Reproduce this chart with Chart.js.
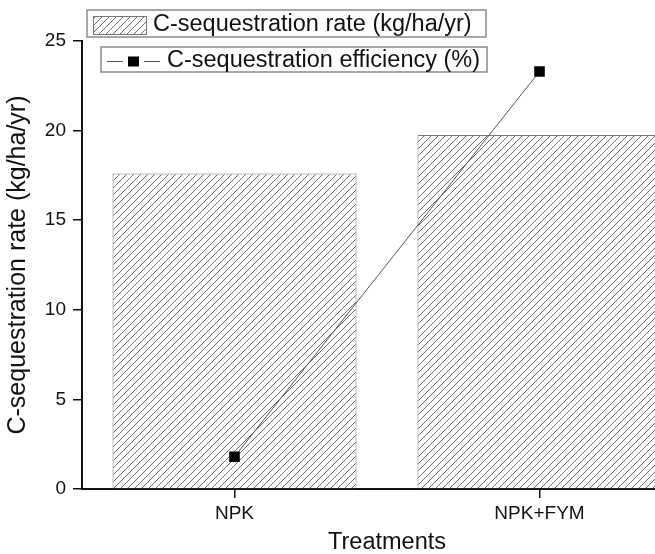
<!DOCTYPE html>
<html>
<head>
<meta charset="utf-8">
<script src="https://cdn.jsdelivr.net/npm/chart.js@4.4.1/dist/chart.umd.min.js"></script>
<style>
  html, body { margin: 0; padding: 0; background: #fff; overflow: hidden; }
  #wrap { width: 655px; height: 554px; overflow: hidden; position: relative; }
  canvas { display: block; }
</style>
</head>
<body>
<div id="wrap"><canvas id="c" width="700" height="554"></canvas></div>
<script>
// ---- data ----
const categories = ['NPK', 'NPK+FYM'];
const rateValues = [17.6, 19.75];          // C-sequestration rate (kg/ha/yr)
const efficiencyValues = [1.8, 23.3];      // C-sequestration efficiency (%)
const rateLabel = 'C-sequestration rate (kg/ha/yr)';
const efficiencyLabel = 'C-sequestration efficiency (%)';
const yAxisTitle = 'C-sequestration rate (kg/ha/yr)';
const xAxisTitle = 'Treatments';
const yMin = 0, yMax = 25, yStep = 5;

const FONT = "'Liberation Sans', Arial, sans-serif";

function makeHatch() {
  const s = 7;
  const t = document.createElement('canvas');
  t.width = s; t.height = s;
  const g = t.getContext('2d');
  g.fillStyle = '#fff';
  g.fillRect(0, 0, s, s);
  g.strokeStyle = '#6a6a6a';
  g.lineWidth = 1;
  g.beginPath();
  g.moveTo(0, s); g.lineTo(s, 0);
  g.moveTo(-1, 1); g.lineTo(1, -1);
  g.moveTo(s - 1, s + 1); g.lineTo(s + 1, s - 1);
  g.stroke();
  return document.getElementById('c').getContext('2d').createPattern(t, 'repeat');
}
const hatch = makeHatch();

const boxedLegend = {
  id: 'boxedLegend',
  afterDraw(chart) {
    const ctx = chart.ctx;
    const ds = chart.data.datasets;
    const bar = ds.find(d => d.type === 'bar');
    const line = ds.find(d => d.type === 'line');
    ctx.save();
    ctx.font = '23.5px ' + FONT;
    ctx.textBaseline = 'middle';
    ctx.textAlign = 'left';
    // box 1 (bars)
    ctx.fillStyle = '#fff';
    ctx.strokeStyle = '#8a8a8a';
    ctx.lineWidth = 1.5;
    ctx.fillRect(87, 10, 399, 27);
    ctx.strokeRect(87, 10, 399, 27);
    ctx.fillStyle = hatch;
    ctx.fillRect(93, 16, 53, 18);
    ctx.strokeStyle = '#777';
    ctx.lineWidth = 1;
    ctx.strokeRect(93.5, 16.5, 53, 18);
    ctx.fillStyle = '#111';
    ctx.fillText(bar.label, 153, 24.5);
    // box 2 (line)
    ctx.fillStyle = '#fff';
    ctx.strokeStyle = '#8a8a8a';
    ctx.lineWidth = 1.5;
    ctx.fillRect(101, 47, 386, 25);
    ctx.strokeRect(101, 47, 386, 25);
    ctx.strokeStyle = '#555';
    ctx.lineWidth = 1;
    ctx.beginPath();
    ctx.moveTo(107, 61.5); ctx.lineTo(123, 61.5);
    ctx.moveTo(144, 61.5); ctx.lineTo(160, 61.5);
    ctx.stroke();
    ctx.fillStyle = '#000';
    ctx.fillRect(128, 56.5, 11, 10);
    ctx.fillStyle = '#111';
    ctx.fillText(line.label, 167, 60.5);
    ctx.restore();
  }
};

new Chart(document.getElementById('c'), {
  data: {
    labels: categories,
    datasets: [
      {
        type: 'line',
        label: efficiencyLabel,
        data: efficiencyValues,
        order: 0,
        borderColor: '#555',
        borderWidth: 1,
        tension: 0,
        pointStyle: 'rect',
        pointRadius: 7.5,
        pointBackgroundColor: '#000',
        pointBorderColor: '#000',
        pointBorderWidth: 0
      },
      {
        type: 'bar',
        label: rateLabel,
        data: rateValues,
        order: 1,
        backgroundColor: hatch,
        borderColor: '#777',
        borderWidth: 1,
        barPercentage: 0.8,
        categoryPercentage: 1.0
      }
    ]
  },
  options: {
    responsive: false,
    animation: false,
    devicePixelRatio: 1,
    layout: { padding: { top: 41, right: 8, left: 0, bottom: 0 } },
    plugins: { legend: { display: false }, tooltip: { enabled: false } },
    scales: {
      x: {
        type: 'category',
        offset: true,
        afterFit(s) { s.height = 65; },
        grid: { offset: false, drawOnChartArea: false, drawTicks: true, tickLength: 9, color: '#111', lineWidth: 1.5 },
        border: { display: true, color: '#111', width: 2 },
        ticks: { color: '#111', font: { family: FONT, size: 19 }, padding: 4, maxRotation: 0 },
        title: { display: true, text: xAxisTitle, color: '#111', font: { family: FONT, size: 23.5, lineHeight: 1 }, padding: 0 }
      },
      y: {
        min: yMin, max: yMax,
        afterFit(s) { s.width = 82; },
        grid: { drawOnChartArea: false, drawTicks: true, tickLength: 9, color: '#111', lineWidth: 1.5 },
        border: { display: true, color: '#111', width: 2 },
        ticks: { stepSize: yStep, color: '#111', font: { family: FONT, size: 19 }, padding: 7 },
        title: { display: true, text: yAxisTitle, color: '#111', font: { family: FONT, size: 25 }, padding: { top: 3, bottom: 0 } }
      }
    }
  },
  plugins: [boxedLegend]
});
</script>
</body>
</html>
